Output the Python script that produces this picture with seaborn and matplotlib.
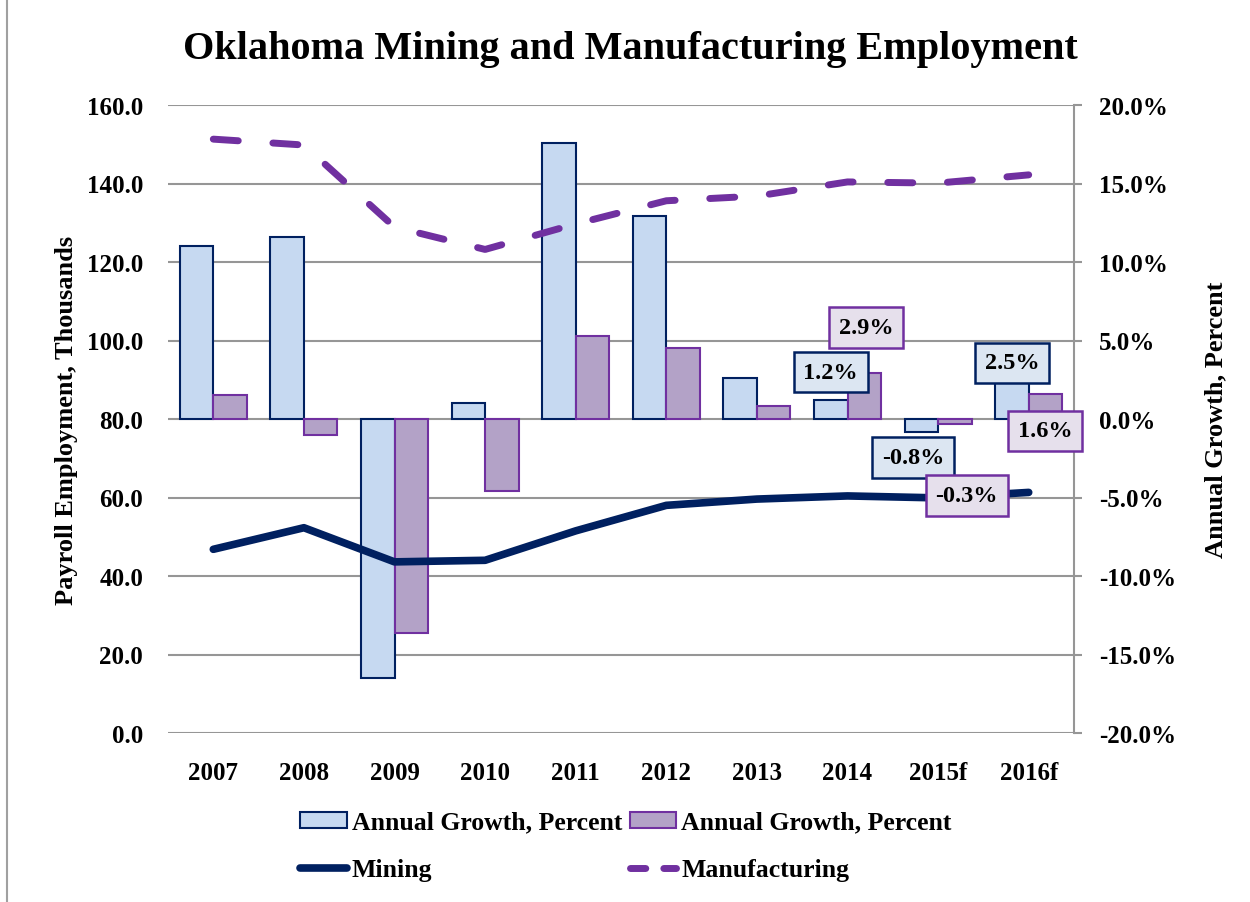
import numpy as np
import pandas as pd
import matplotlib
matplotlib.use("Agg")
import matplotlib.pyplot as plt
from matplotlib.patches import Patch
from matplotlib.lines import Line2D
import seaborn as sns

# ---------------- data ----------------
years = ["2007", "2008", "2009", "2010", "2011", "2012", "2013", "2014", "2015f", "2016f"]
mining_growth = [11.0, 11.6, -16.5, 1.0, 17.6, 12.9, 2.6, 1.2, -0.8, 2.5]
manuf_growth = [1.5, -1.0, -13.6, -4.6, 5.3, 4.5, 0.8, 2.9, -0.3, 1.6]
mining_emp = [46.8, 52.3, 43.6, 44.0, 51.5, 58.0, 59.6, 60.4, 59.9, 61.3]
manuf_emp = [151.3, 149.8, 128.9, 123.2, 129.7, 135.6, 136.8, 140.4, 140.1, 142.2]
labeled_years = ["2014", "2015f", "2016f"]
series_names = ["Mining growth", "Manufacturing growth"]
legend_labels = ["Annual Growth, Percent", "Annual Growth, Percent", "Mining", "Manufacturing"]
title = "Oklahoma Mining and Manufacturing Employment"
left_label = "Payroll Employment, Thousands"
right_label = "Annual Growth, Percent"

# ---------------- style ----------------
sns.set_theme(style="white")
plt.rcParams["font.family"] = ["Liberation Serif", "DejaVu Serif"]
plt.rcParams["font.weight"] = "bold"
for k in ["text.color", "axes.labelcolor", "xtick.color", "ytick.color"]:
    plt.rcParams[k] = "black"

c_min_fill, c_min_edge = "#c6d9f1", "#002060"
c_man_fill, c_man_edge = "#b3a2c7", "#7030a0"
grid_c = "#969696"

df = pd.DataFrame({
    "year": years * 2,
    "series": [series_names[0]] * len(years) + [series_names[1]] * len(years),
    "value": mining_growth + manuf_growth,
})
lines_df = pd.DataFrame({"pos": np.arange(len(years)), "mining": mining_emp, "manuf": manuf_emp})

fig = plt.figure(figsize=(12.5, 9.03), dpi=100)
axb = fig.add_axes([168 / 1250, 1 - 734 / 903, (1074 - 168) / 1250, (734 - 106) / 903])
axl = axb.twinx()
axl.set_zorder(axb.get_zorder() + 1)
axl.patch.set_visible(False)

sns.barplot(data=df, x="year", y="value", hue="series", order=years, hue_order=series_names,
            palette={series_names[0]: c_min_fill, series_names[1]: c_man_fill},
            width=0.74, gap=0, saturation=1, legend=False, ax=axb, zorder=2)
for cont, ec in zip(axb.containers, [c_min_edge, c_man_edge]):
    for p in cont:
        p.set_edgecolor(ec)
        p.set_linewidth(1.5)

axb.set_ylim(-20, 20)
axb.set_xlim(-0.5, len(years) - 0.5)
axb.set_yticks(np.arange(-20, 20.1, 5))
axb.set_yticklabels([f"{v:.1f}%" for v in np.arange(-20, 20.1, 5)])
axb.yaxis.tick_right()
axb.yaxis.set_label_position("right")
axb.set_ylabel(right_label, fontsize=19, fontweight="bold", labelpad=20, rotation=90)
axb.set_xlabel("")
axb.grid(axis="y", color=grid_c, linewidth=1.5, zorder=0)
axb.set_axisbelow(True)
for s in ["top", "left", "bottom"]:
    axb.spines[s].set_visible(False)
axb.spines["right"].set_color(grid_c)
axb.spines["right"].set_linewidth(1.5)
axb.tick_params(axis="y", left=False, right=True, labelleft=False, labelright=True,
                length=6, width=1.5, color=grid_c, pad=12, labelsize=18)
axb.tick_params(axis="x", bottom=False, pad=14, labelsize=18)
for t in axb.get_xticklabels() + axb.get_yticklabels():
    t.set_fontweight("bold")

sns.lineplot(data=lines_df, x="pos", y="mining", color=c_min_edge, linewidth=5.5,
             solid_capstyle="round", ax=axl)
sns.lineplot(data=lines_df, x="pos", y="manuf", color=c_man_edge, linewidth=5, ax=axl)
ml = axl.lines[-1]
ml.set_dashes((3.6, 5.0))
ml.set_dash_capstyle("round")
axl.set_ylim(0, 160)
axl.set_yticks(np.arange(0, 160.1, 20))
axl.set_yticklabels([f"{v:.1f}" for v in np.arange(0, 160.1, 20)])
axl.yaxis.tick_left()
axl.yaxis.set_label_position("left")
axl.set_ylabel(left_label, fontsize=19, fontweight="bold", labelpad=6)
axl.set_xlabel("")
axl.tick_params(axis="y", left=False, right=False, labelleft=True, labelright=False,
                pad=12, labelsize=18)
for t in axl.get_yticklabels():
    t.set_fontweight("bold")
for s in axl.spines.values():
    s.set_visible(False)
axl.set_xlim(-0.5, len(years) - 0.5)

# ---------------- data labels ----------------
offsets = {
    (0, "2014"): (0, 28), (1, "2014"): (2, 46),
    (0, "2015f"): (-8, -26), (1, "2015f"): (12, -72),
    (0, "2016f"): (0, 17), (1, "2016f"): (0, -37),
}
fills = [(c_min_edge, "#dce6f2"), (c_man_edge, "#e6e0ec")]
vals = [mining_growth, manuf_growth]
for si, cont in enumerate(axb.containers):
    for yi, p in enumerate(cont):
        y = years[yi]
        if y not in labeled_years:
            continue
        v = vals[si][yi]
        xc = p.get_x() + p.get_width() / 2
        dx, dy = offsets[(si, y)]
        axl.annotate(f"{v:.1f}%", xy=(xc, v), xycoords=axb.transData,
                     xytext=(dx, dy), textcoords="offset pixels",
                     ha="center", va="center", fontsize=17.5, fontweight="bold",
                     bbox=dict(boxstyle="square,pad=0.4", fc=fills[si][1],
                               ec=fills[si][0], lw=1.8), zorder=10)

# ---------------- legend ----------------
handles = [
    Patch(facecolor=c_min_fill, edgecolor=c_min_edge, linewidth=1.5),
    Line2D([], [], color=c_min_edge, linewidth=5.5, solid_capstyle="round"),
    Patch(facecolor=c_man_fill, edgecolor=c_man_edge, linewidth=1.5),
    Line2D([], [], color=c_man_edge, linewidth=5, dashes=(2.2, 2.6), dash_capstyle="round"),
]
labs = [legend_labels[0], legend_labels[2], legend_labels[1], legend_labels[3]]
leg = fig.legend(handles, labs, ncol=2, loc="center", bbox_to_anchor=(626 / 1250, 1 - 847 / 903),
                 frameon=False, handlelength=1.8, handleheight=0.6, handletextpad=0.2,
                 columnspacing=0.3, labelspacing=0.95, prop={"weight": "bold", "size": 18.5})

fig.suptitle(title, x=630 / 1250, y=1 - 50 / 903, fontsize=29, fontweight="bold", va="center")

fig.add_artist(Line2D([7 / 1250, 7 / 1250], [0, 1], color="#a0a0a0", linewidth=1.5,
                      transform=fig.transFigure))

fig.savefig("out.png", dpi=100)
